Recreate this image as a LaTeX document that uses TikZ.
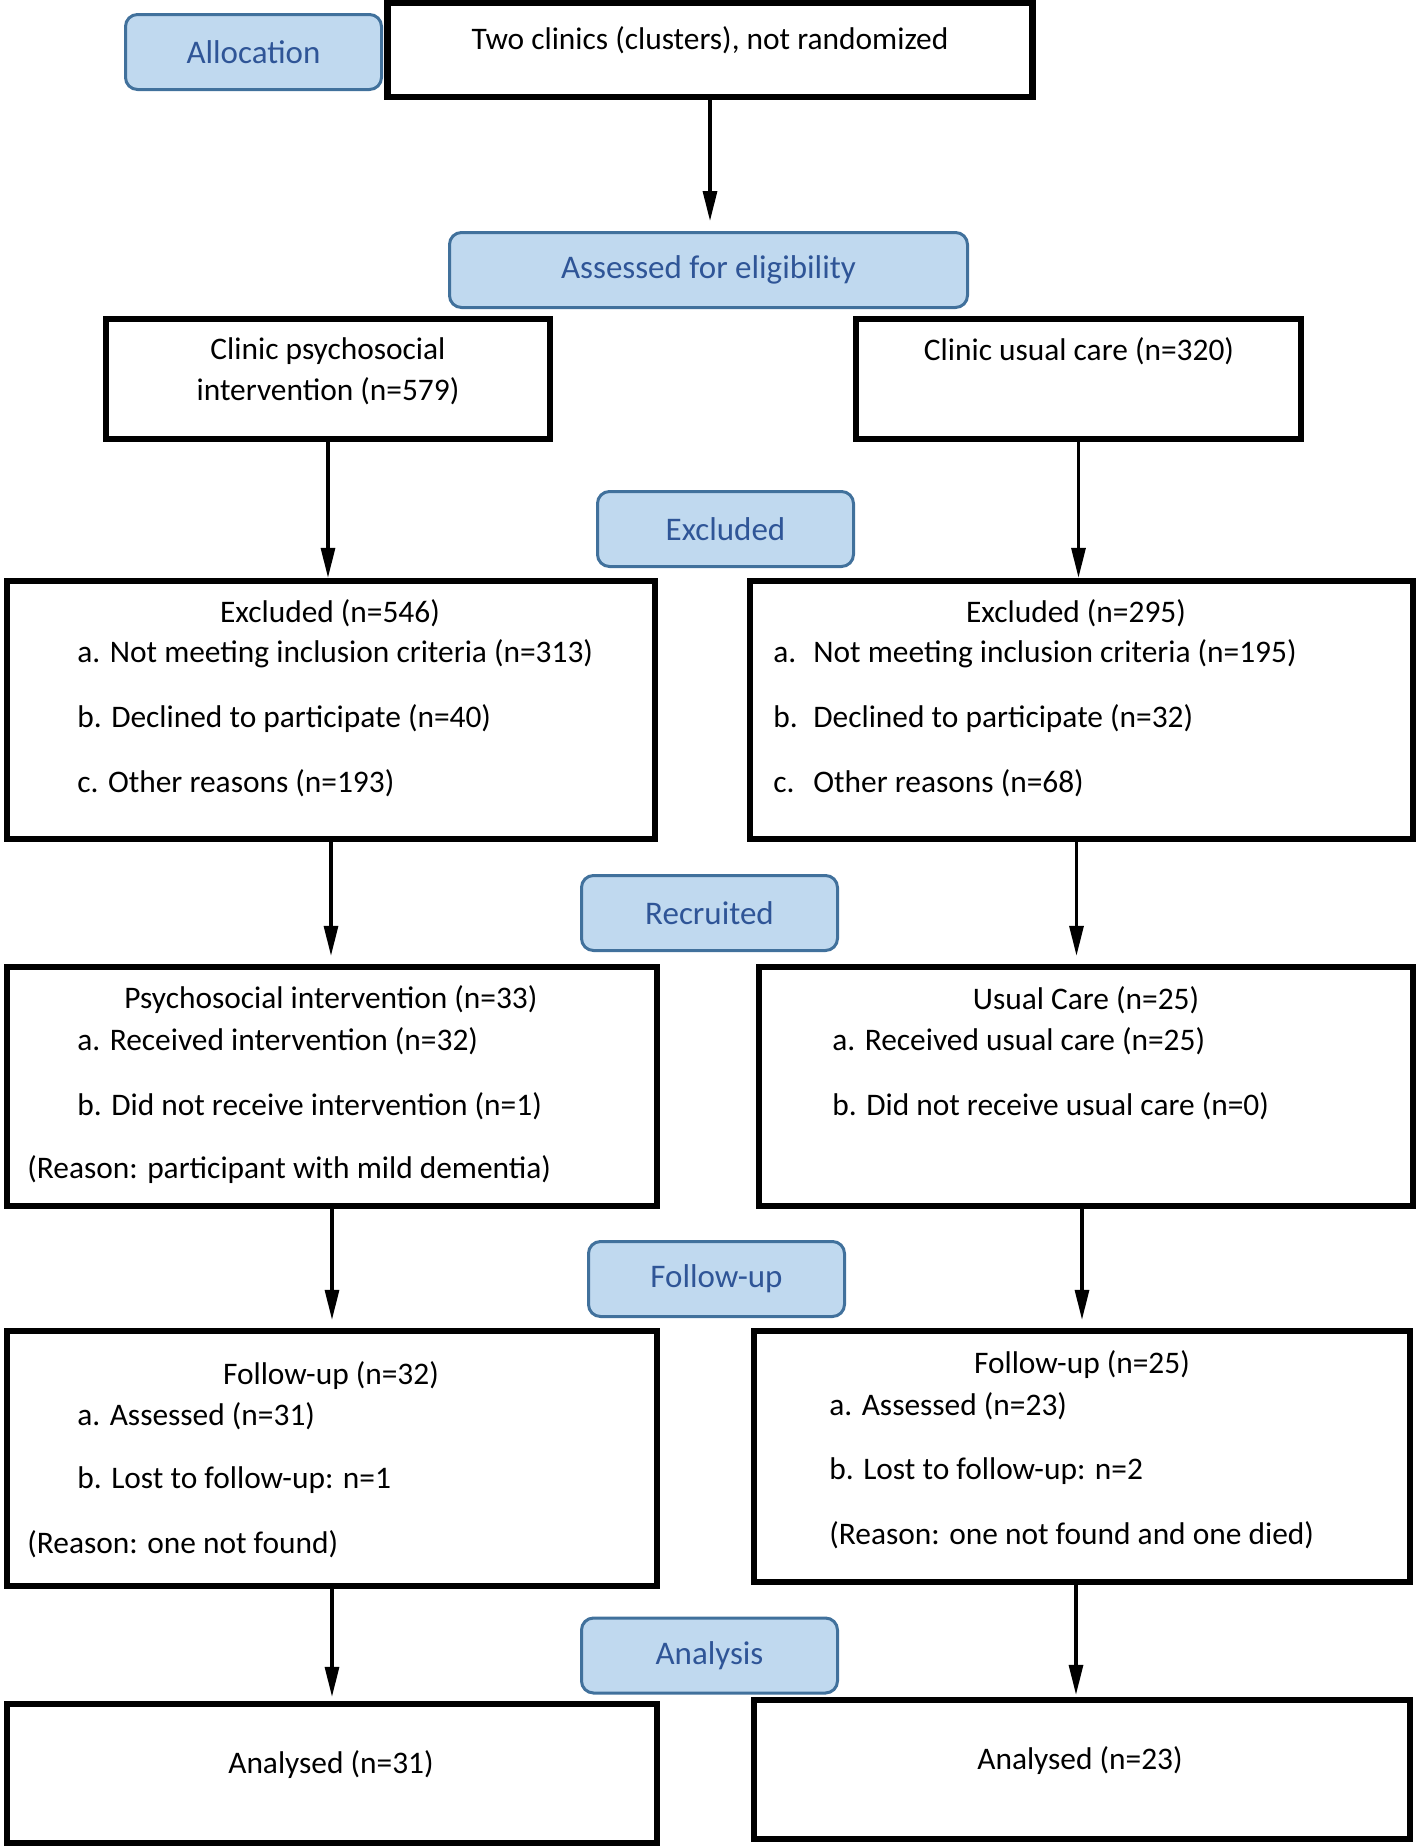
\documentclass[tikz,border=0pt]{standalone}
\usepackage{fontspec}
\setmainfont{Carlito}
\usetikzlibrary{arrows.meta}

\definecolor{tagfill}{RGB}{192,217,239}
\definecolor{tagline}{RGB}{65,113,156}
\definecolor{tagtext}{RGB}{47,85,151}

\begin{document}
\begin{tikzpicture}[
    x=0.5pt, y=-0.5pt,
    font=\fontsize{15.7pt}{18.8pt}\selectfont,
    box/.style={draw, line width=3.2pt, inner sep=0pt},
    tag/.style={draw=tagline, fill=tagfill, text=tagtext, rounded corners=6pt,
        line width=1.5pt, minimum width=128pt, minimum height=37.5pt,
        font=\fontsize{16.5pt}{19.8pt}\selectfont},
    line/.style={line width=1.6pt, -{Triangle[length=15pt,width=7pt]}},
    txt/.style={inner sep=0pt, anchor=west}
]
    \useasboundingbox (0,0) rectangle (1418,1848);

    % Allocation
    \node[box, minimum width=322.5pt, minimum height=47pt] (clinics) at (710,50) {};
    \node[inner sep=0pt] (clinicsT) at (710,40) {Two clinics (clusters), not randomized};
    \node[tag] (allocation) at (253.5,52) {Allocation};

    \node[tag, minimum width=259pt] (assessed) at (708.5,270) {Assessed for eligibility};

    % Two clinics
    \node[box, minimum width=222pt, minimum height=60pt] (clinicA) at (328,379) {};
    \node[inner sep=0pt] (clinicA1) at (328,351) {Clinic psychosocial};
    \node[inner sep=0pt] (clinicA2) at (328,391) {intervention (n=579)};
    \node[box, minimum width=222.5pt, minimum height=60pt] (clinicB) at (1078.5,379) {};
    \node[inner sep=0pt] (clinicB1) at (1079,351) {Clinic usual care (n=320)};

    % Excluded
    \node[tag] (excluded) at (725.5,529) {Excluded};
    \node[box, minimum width=324pt, minimum height=129pt] (exclA) at (331,710) {};
    \node[inner sep=0pt] (exclA0) at (330,613) {Excluded (n=546)};
    \node[txt] (exclA1) at (77,654) {a. Not meeting inclusion criteria (n=313)};
    \node[txt] (exclA2) at (77,719) {b. Declined to participate (n=40)};
    \node[txt] (exclA3) at (77,783) {c. Other reasons (n=193)};
    \node[box, minimum width=331.5pt, minimum height=129pt] (exclB) at (1081.5,710) {};
    \node[inner sep=0pt] (exclB0) at (1076,613) {Excluded (n=295)};
    \node[txt] (exclB1) at (773,654) {\makebox[20pt][l]{a.}Not meeting inclusion criteria (n=195)};
    \node[txt] (exclB2) at (773,719) {\makebox[20pt][l]{b.}Declined to participate (n=32)};
    \node[txt] (exclB3) at (773,783) {\makebox[20pt][l]{c.}Other reasons (n=68)};

    % Recruited
    \node[tag] (recruited) at (709.5,913) {Recruited};
    \node[box, minimum width=325pt, minimum height=119.5pt] (recA) at (332,1086.5) {};
    \node[inner sep=0pt] (recA0) at (331,1000) {Psychosocial intervention (n=33)};
    \node[txt] (recA1) at (77,1041) {a. Received intervention (n=32)};
    \node[txt] (recA2) at (77,1106) {b. Did not receive intervention (n=1)};
    \node[txt] (recA3) at (27,1170) {(Reason: participant with mild dementia)};
    \node[box, minimum width=327pt, minimum height=119.5pt] (recB) at (1086,1086.5) {};
    \node[inner sep=0pt] (recB0) at (1086,1000) {Usual Care (n=25)};
    \node[txt] (recB1) at (832,1041) {a. Received usual care (n=25)};
    \node[txt] (recB2) at (832,1106) {b. Did not receive usual care (n=0)};

    % Follow-up
    \node[tag] (followup) at (716.5,1279) {Follow-up};
    \node[box, minimum width=325pt, minimum height=127.5pt] (fupA) at (332,1458.5) {};
    \node[inner sep=0pt] (fupA0) at (331,1376) {Follow-up (n=32)};
    \node[txt] (fupA1) at (77,1416) {a. Assessed (n=31)};
    \node[txt] (fupA2) at (77,1480) {b. Lost to follow-up: n=1};
    \node[txt] (fupA3) at (27,1544) {(Reason: one not found)};
    \node[box, minimum width=328pt, minimum height=125.5pt] (fupB) at (1082,1456.5) {};
    \node[inner sep=0pt] (fupB0) at (1082,1365) {Follow-up (n=25)};
    \node[txt] (fupB1) at (829,1406) {a. Assessed (n=23)};
    \node[txt] (fupB2) at (829,1471) {b. Lost to follow-up: n=2};
    \node[txt] (fupB3) at (829,1535) {(Reason: one not found and one died)};

    % Analysis
    \node[tag] (analysis) at (709.5,1655.5) {Analysis};
    \node[box, minimum width=325pt, minimum height=69.5pt] (anA) at (332,1773.5) {};
    \node[inner sep=0pt] (anA0) at (331,1765) {Analysed (n=31)};
    \node[box, minimum width=328pt, minimum height=69.5pt] (anB) at (1082,1769.5) {};
    \node[inner sep=0pt] (anB0) at (1080,1761) {Analysed (n=23)};

    % Arrows
    \draw[line, shorten >=5pt] (clinics.south) -- (clinics.south |- assessed.north);
    \draw[line] (clinicA.south) -- (clinicA.south |- exclA.north);
    \draw[line] (clinicB.south) -- (clinicB.south |- exclB.north);
    \draw[line, shorten >=4pt] (exclA.south) -- (exclA.south |- recA.north);
    \draw[line, shorten >=4pt] ([xshift=-2.5pt]exclB.south) -- ([xshift=-2.5pt]exclB.south |- recB.north);
    \draw[line, shorten >=4pt] (recA.south) -- (recA.south |- fupA.north);
    \draw[line, shorten >=4pt] ([xshift=-2pt]recB.south) -- ([xshift=-2pt]recB.south |- fupB.north);
    \draw[line, shorten >=2pt] (fupA.south) -- (fupA.south |- anA.north);
    \draw[line, shorten >=1pt] ([xshift=-3pt]fupB.south) -- ([xshift=-3pt]fupB.south |- anB.north);
\end{tikzpicture}
\end{document}
